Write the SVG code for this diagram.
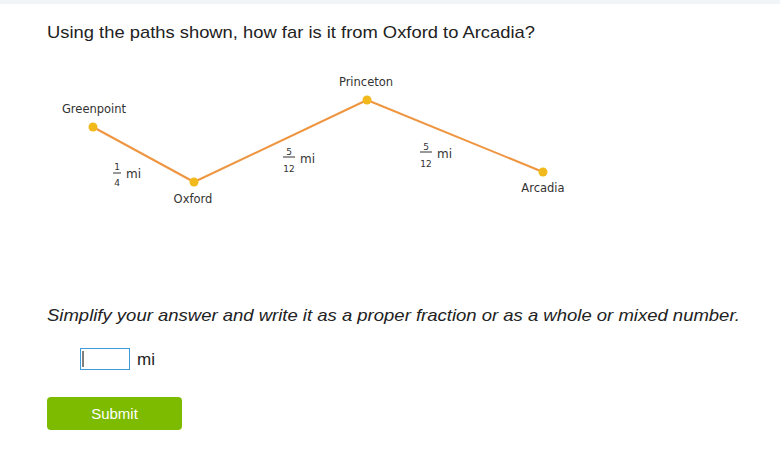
<svg xmlns="http://www.w3.org/2000/svg" width="780" height="475" viewBox="0 0 780 475">
<style>
  .t { font-family: "DejaVu Sans", Verdana, sans-serif; fill: #333; }
  .q { font-family: "Liberation Sans", Arial, sans-serif; fill: #222; }
  .lbl { font-family: "DejaVu Sans", Verdana, sans-serif; font-size: 11.5px; fill: #333; text-anchor: middle; }
  .fr { font-family: "DejaVu Sans", Verdana, sans-serif; font-size: 9px; fill: #333; text-anchor: middle; }
  .mi { font-family: "DejaVu Sans", Verdana, sans-serif; font-size: 12px; fill: #333; }
  .dot { fill: #f2b91c; }
  .path { stroke: #ef9540; stroke-width: 2; fill: none; }
</style>
<rect width="780" height="475" fill="#ffffff"/>
<rect width="780" height="4" fill="#f2f5f8"/>
<text class="q" x="47" y="38" font-size="17" textLength="488" lengthAdjust="spacingAndGlyphs">Using the paths shown, how far is it from Oxford to Arcadia?</text>

<g id="connectors">
  <line class="path" x1="93" y1="127" x2="194" y2="182"/>
  <line class="path" x1="194" y1="182" x2="367" y2="100"/>
  <line class="path" x1="367" y1="100" x2="543" y2="172"/>
  <g id="label-gp-ox">
    <text class="fr" x="117" y="170">1</text>
    <line x1="113" y1="173" x2="121" y2="173" stroke="#333" stroke-width="1"/>
    <text class="fr" x="117" y="186">4</text>
    <text class="mi" x="126" y="178">mi</text>
  </g>
  <g id="label-ox-pr">
    <text class="fr" x="289" y="155">5</text>
    <line x1="283" y1="157" x2="295" y2="157" stroke="#333" stroke-width="1"/>
    <text class="fr" x="289" y="172">12</text>
    <text class="mi" x="300" y="163">mi</text>
  </g>
  <g id="label-pr-ar">
    <text class="fr" x="426" y="150">5</text>
    <line x1="420" y1="152" x2="432" y2="152" stroke="#333" stroke-width="1"/>
    <text class="fr" x="426" y="167">12</text>
    <text class="mi" x="437" y="158">mi</text>
  </g>
</g>

<g id="greenpoint">
  <circle class="dot" cx="93" cy="127" r="4.5"/>
  <text class="lbl" x="94" y="113">Greenpoint</text>
</g>
<g id="oxford">
  <circle class="dot" cx="194" cy="182" r="4.5"/>
  <text class="lbl" x="193" y="203">Oxford</text>
</g>
<g id="princeton">
  <circle class="dot" cx="367" cy="100" r="4.5"/>
  <text class="lbl" x="366" y="86">Princeton</text>
</g>
<g id="arcadia">
  <circle class="dot" cx="543" cy="172" r="4.5"/>
  <text class="lbl" x="543" y="192">Arcadia</text>
</g>

<text class="q" x="47" y="321" font-size="17" font-style="italic" textLength="693" lengthAdjust="spacingAndGlyphs">Simplify your answer and write it as a proper fraction or as a whole or mixed number.</text>

<g id="answer">
  <rect x="80.5" y="348.5" width="49" height="21" fill="#fff" stroke="#3c9bd8" stroke-width="1"/>
  <line x1="83" y1="351" x2="83" y2="367" stroke="#000" stroke-width="1"/>
  <text class="q" x="137" y="365" font-size="17">mi</text>
</g>

<g id="submit">
  <rect x="47" y="397" width="135" height="33" rx="4" fill="#7dbb00"/>
  <text class="q" x="114.5" y="419" font-size="15" fill="#ffffff" style="fill:#ffffff" text-anchor="middle">Submit</text>
</g>
</svg>
